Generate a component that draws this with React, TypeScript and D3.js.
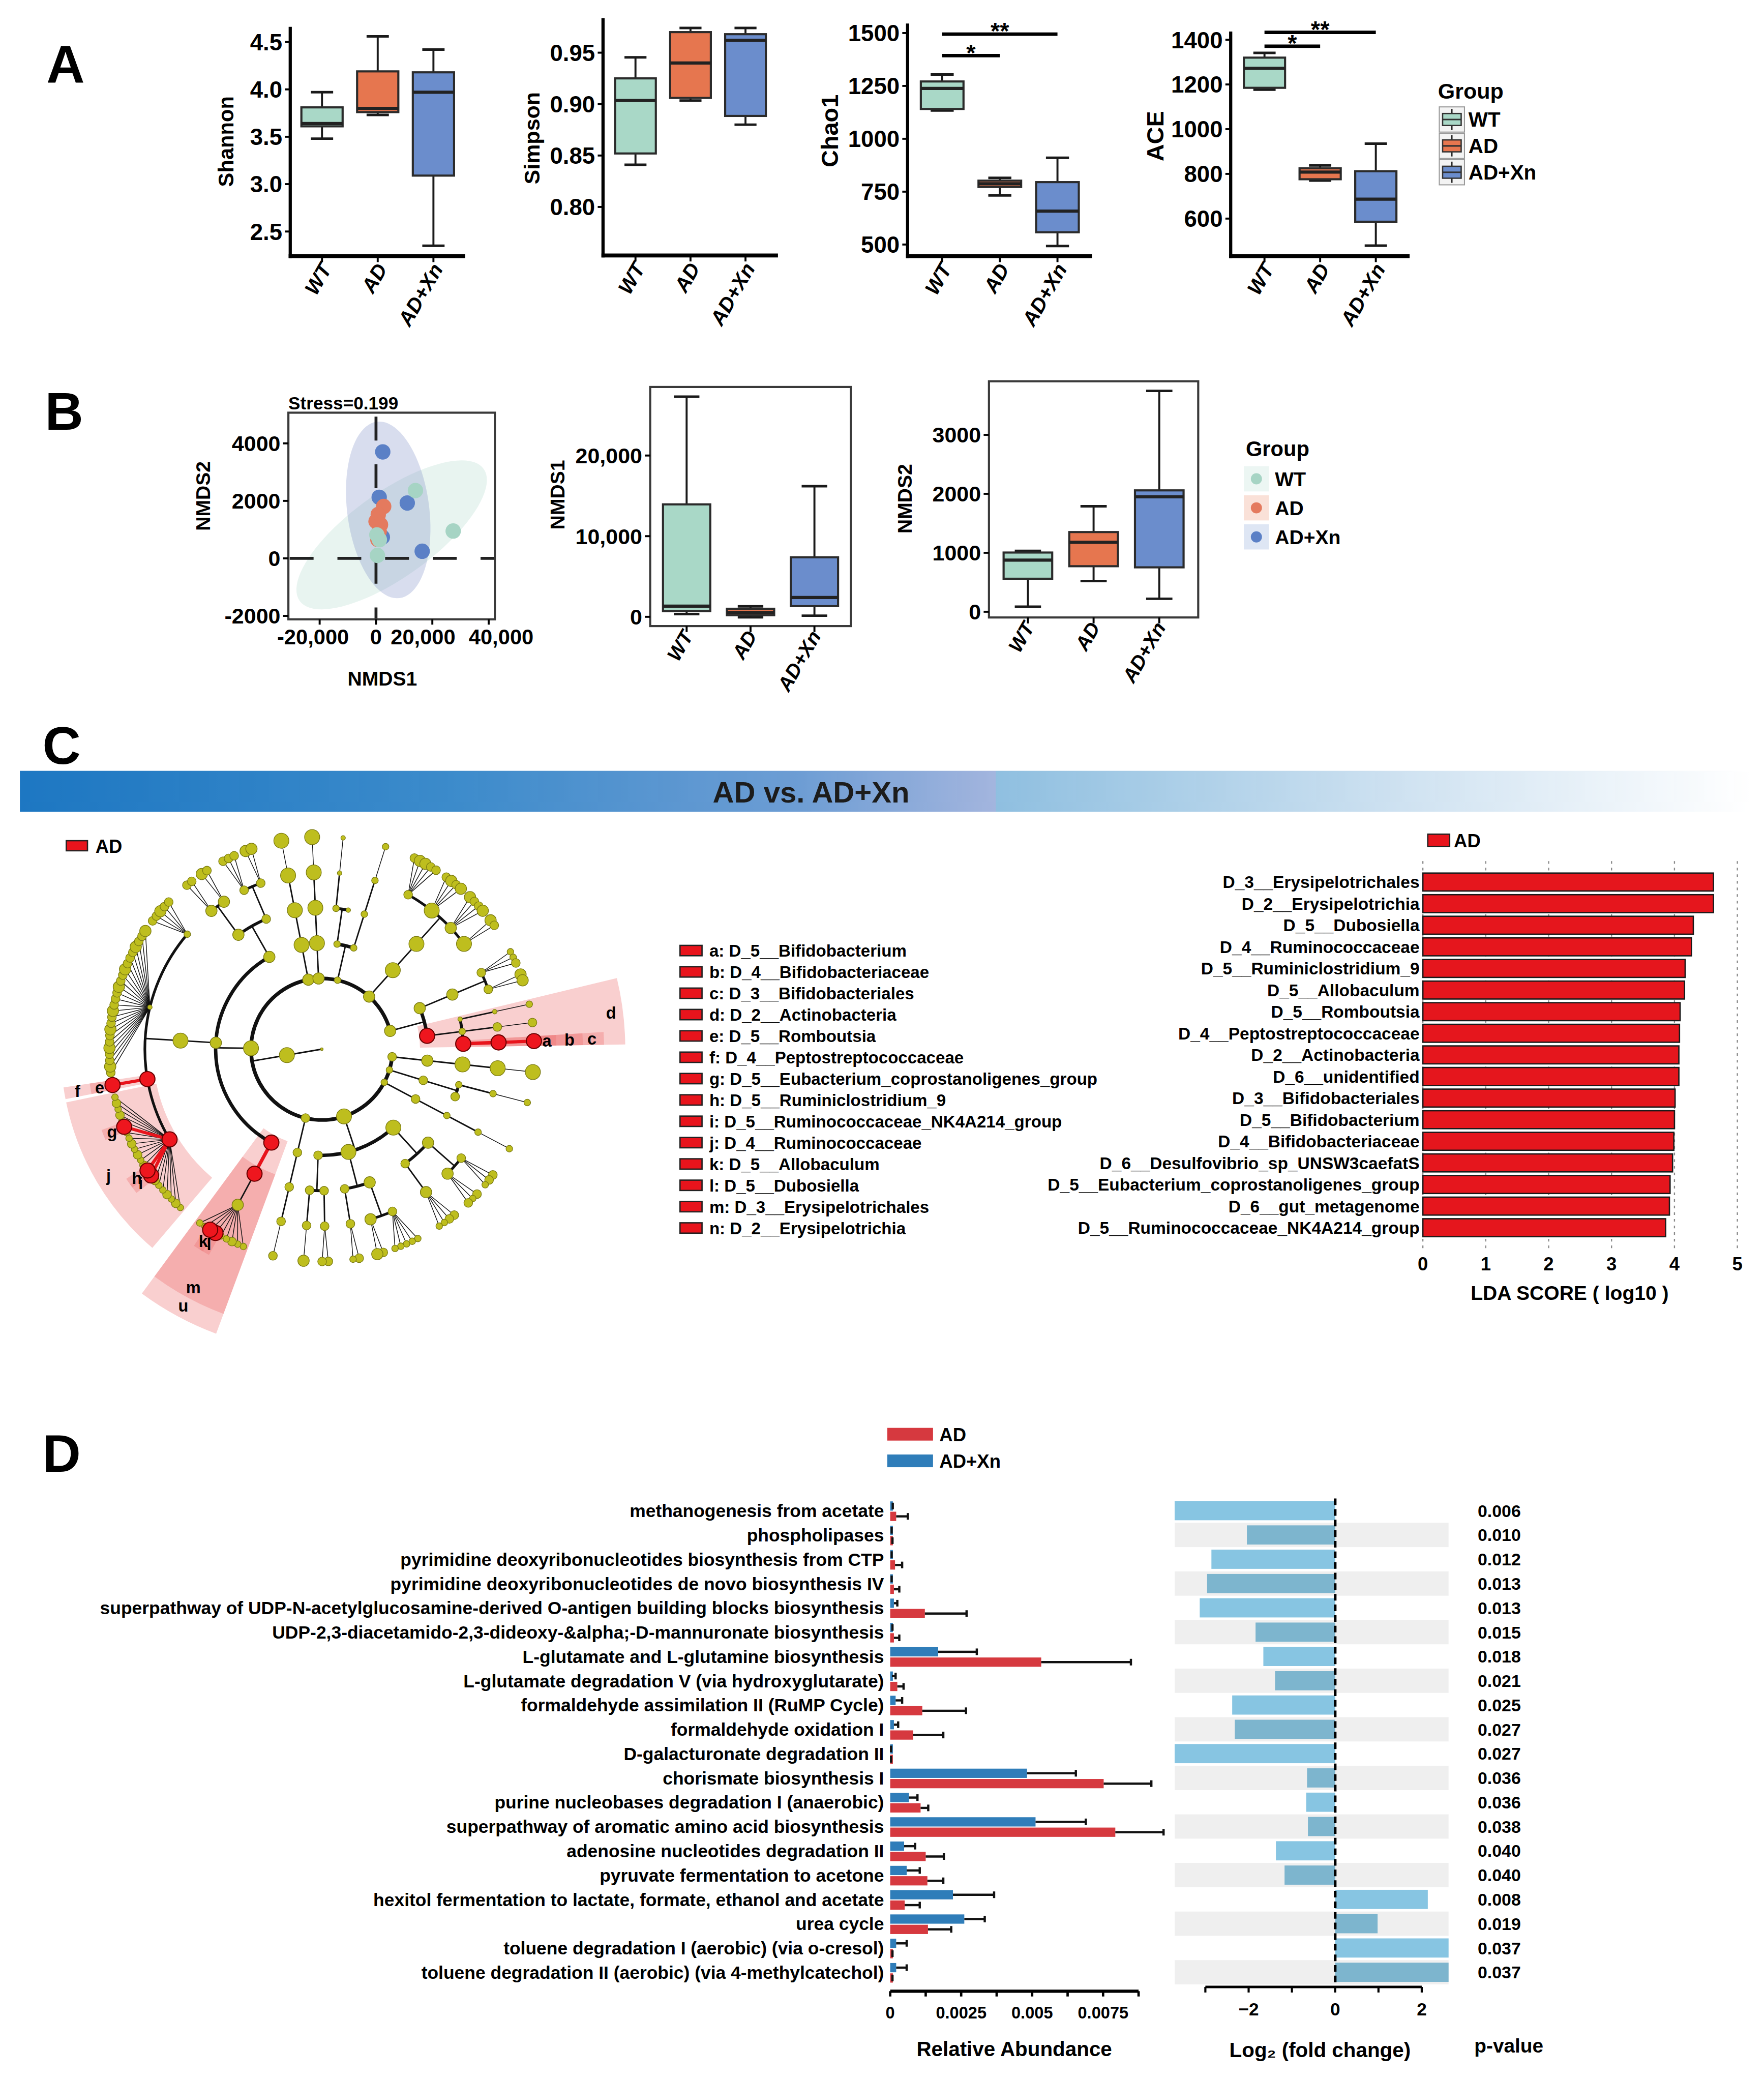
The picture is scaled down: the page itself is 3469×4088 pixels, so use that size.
import React from 'react';
import * as d3 from 'd3';

const FONT = '"Liberation Sans", Arial, Helvetica, sans-serif';
const VW = 1331;
const VH = 1568;

// ---------------- Panel A data ----------------
const groups = ['WT', 'AD', 'AD+Xn'];
const groupFill = ['#a9d8c7', '#e6764f', '#6b8dcc'];
// [min, q1, median, q3, max]
const shannonStats = [[3.48, 3.61, 3.64, 3.81, 3.97], [3.73, 3.76, 3.80, 4.19, 4.56], [2.35, 3.09, 3.97, 4.18, 4.42]];
const simpsonStats = [[0.841, 0.852, 0.9035, 0.925, 0.9455], [0.9035, 0.906, 0.940, 0.970, 0.974], [0.880, 0.8885, 0.962, 0.968, 0.974]];
const chao1Stats = [[1134, 1141, 1238, 1271, 1304], [732, 772, 787, 802, 815], [493, 558, 658, 795, 910]];
const aceStats = [[1177, 1185, 1272, 1320, 1341], [770, 776, 808, 825, 838], [479, 586, 687, 812, 935]];
const shannonTicks = [2.5, 3.0, 3.5, 4.0, 4.5];
const simpsonTicks = [0.80, 0.85, 0.90, 0.95];
const chao1Ticks = [500, 750, 1000, 1250, 1500];
const aceTicks = [600, 800, 1000, 1200, 1400];
const chao1Sig = [{ from: 'WT', to: 'AD', y: 1393, label: '*' }, { from: 'WT', to: 'AD+Xn', y: 1495, label: '**' }];
const aceSig = [{ from: 'WT', to: 'AD', y: 1371, label: '*' }, { from: 'WT', to: 'AD+Xn', y: 1433, label: '**' }];

// ---------------- Panel B data ----------------
const nmdsWT = [[14000, 2360], [27400, 950], [300, 817], [500, 102], [1200, 650]];
const nmdsAD = [[2730, 1806], [800, 1529], [0, 1289], [1600, 1173], [1130, 933], [660, 656]];
const nmdsXn = [[2400, 3704], [1130, 2125], [11100, 1926], [16400, 247], [2260, 739]];
// ellipse: center, half-axis u, half-axis v (data units)
const ellipseWT = { c: [5553, 818], u: [32659, 2296], v: [8753, -1201] };
const ellipseAD = { c: [1300, 1250], u: [600, 750], v: [2200, -50] };
const ellipseXn = { c: [4330, 1686], u: [4024, -3067], v: [14447, 183] };
const nmdsXTicks = [-20000, 0, 20000, 40000];
const nmdsXLabelNudge = [-5, 0, -7, 9.4];
const nmdsYTicks = [-2000, 0, 2000, 4000];
const nmds1Stats = [[338, 704, 1324, 13944, 27296], [-60, 200, 540, 1000, 1300], [141, 1324, 2394, 7380, 16197]];
const nmds2Stats = [[85, 560, 876, 1004, 1031], [521, 772, 1178, 1351, 1788], [220, 753, 1950, 2058, 3745]];
const nmds1Ticks = [0, 10000, 20000];
const nmds2Ticks = [0, 1000, 2000, 3000];

// ---------------- Panel C data ----------------
const cladeLetters = ['a', 'b', 'c', 'd', 'e', 'f', 'g', 'h', 'i', 'j', 'k', 'l', 'm', 'n'];
const cladeNames = ['D_5__Bifidobacterium', 'D_4__Bifidobacteriaceae', 'D_3__Bifidobacteriales', 'D_2__Actinobacteria', 'D_5__Romboutsia', 'D_4__Peptostreptococcaceae', 'D_5__Eubacterium_coprostanoligenes_group', 'D_5__Ruminiclostridium_9', 'D_5__Ruminococcaceae_NK4A214_group', 'D_4__Ruminococcaceae', 'D_5__Allobaculum', 'D_5__Dubosiella', 'D_3__Erysipelotrichales', 'D_2__Erysipelotrichia'];
const cladogramTags = ['a', 'b', 'c', 'd', 'e', 'f', 'g', 'h', 'i', 'j', 'k', 'l', 'm', 'u'];

// taxonomy tree (newick-like, label:sizeClass), clockwise order
const PA = '((((:5):5):5):4):3';
const PB = '((((:2):2):2,:3):3):2';
const PC = '((((:2):2):2):3):2';
const PD_C1 = '(((:3,:3,:2):3,(:3,:2,:3):4):4,((:3,:3,:2,:2):4):3):5';
const PD_C2 = '(((:2,:2,:2,:2,:2):3,(:3,:4):4):4,((:3,:2):3):3):5';
const PD_C3 = '(((:3,:3):3):3,((:4):3):3):3';
const PD = `(${PD_C1},${PD_C2},${PD_C3}):5`;
const PE = '((((:3):3):3):3):3';
const PF_N = '(((:2,:2,:3,:2,:2,l:5,k:5,:2,:2):4)m:5)n:5';
const PF_J = '(:2,:3,:2,:3,:2,:2,:3,i:5,h:5,:3,:2,:3,:2,:3,:2,:2,g:5,:2,:3,:2,:3,:2)j:5';
const PF_F = '(e:5)f:5';
const PF_LACH = '(:3,:4,:3,:3,:4,:3,:3,:4,:3,:3,:4,:3,:3,:3,:4,:3,:3,:4,:3,:3,:3,:4,:3,:3,:4):1';
const PF_F217 = '(:3,:3,:4,:3,:3):2';
const PF_CLOS = `((${PF_J},${PF_F},${PF_LACH},${PF_F217}):5):4`;
const PF_BAC = '(((:3,:3):4,(:4,:3):4):4,((:3,:3,:3):3,(:4,:4):3):3):4';
const PF = `(${PF_N},${PF_CLOS},${PF_BAC}):5`;
const PG = '((((:5):5):5):5):4';
const PH = '((((:5):5):5):5):4';
const PI = '((((:1):1):2,:1):2,(((:2):2):2):2):2';
const PJ = '(((' + ['(:3,:4,:4,:3,:3):3', '(:3,:4,:3,:4):5', '(:4,:3,:3,:4):4', '(:4,:3):5'].join(',') + '):5):5):4';
const PK_C1 = '(((:2,:2,:3):3,(:4,:4):3):4):4';
const PK_D = '(((:2):1):1,((:3):3):2,((a:5)b:5)c:5)d:5';
const PK = `(${PK_C1},${PK_D}):4`;
const TREE = `((${[PA, PB, PC, PD, PE, PF, PG, PH, PI, PJ, PK].join(',')}):5):0`;

const ldaTaxa = ['D_3__Erysipelotrichales', 'D_2__Erysipelotrichia', 'D_5__Dubosiella', 'D_4__Ruminococcaceae', 'D_5__Ruminiclostridium_9', 'D_5__Allobaculum', 'D_5__Romboutsia', 'D_4__Peptostreptococcaceae', 'D_2__Actinobacteria', 'D_6__unidentified', 'D_3__Bifidobacteriales', 'D_5__Bifidobacterium', 'D_4__Bifidobacteriaceae', 'D_6__Desulfovibrio_sp_UNSW3caefatS', 'D_5__Eubacterium_coprostanoligenes_group', 'D_6__gut_metagenome', 'D_5__Ruminococcaceae_NK4A214_group'];
const ldaScores = [4.62, 4.62, 4.30, 4.27, 4.17, 4.16, 4.09, 4.08, 4.07, 4.07, 4.01, 4.00, 3.99, 3.97, 3.93, 3.92, 3.86];
const ldaTicks = [0, 1, 2, 3, 4, 5];

// ---------------- Panel D data ----------------
const pathways = ['methanogenesis from acetate', 'phospholipases', 'pyrimidine deoxyribonucleotides biosynthesis from CTP', 'pyrimidine deoxyribonucleotides de novo biosynthesis IV', 'superpathway of UDP-N-acetylglucosamine-derived O-antigen building blocks biosynthesis', 'UDP-2,3-diacetamido-2,3-dideoxy-&alpha;-D-mannuronate biosynthesis', 'L-glutamate and L-glutamine biosynthesis', 'L-glutamate degradation V (via hydroxyglutarate)', 'formaldehyde assimilation II (RuMP Cycle)', 'formaldehyde oxidation I', 'D-galacturonate degradation II', 'chorismate biosynthesis I', 'purine nucleobases degradation I (anaerobic)', 'superpathway of aromatic amino acid biosynthesis', 'adenosine nucleotides degradation II', 'pyruvate fermentation to acetone', 'hexitol fermentation to lactate, formate, ethanol and acetate', 'urea cycle', 'toluene degradation I (aerobic) (via o-cresol)', 'toluene degradation II (aerobic) (via 4-methylcatechol)'];
const abundAD = [0.00021, 0.00006, 0.00017, 0.00013, 0.00122, 0.00013, 0.00532, 0.00025, 0.00113, 0.00081, 0.00002, 0.00752, 0.00107, 0.00793, 0.00125, 0.00131, 0.00051, 0.00133, 0.00006, 0.00006];
const sdAD = [0.00041, 0.00002, 0.00025, 0.00019, 0.00147, 0.00019, 0.00316, 0.00022, 0.00154, 0.00106, 0.00001, 0.00168, 0.00027, 0.0017, 0.00064, 0.00056, 0.00053, 0.00082, 0.00002, 0.00002];
const abundXn = [0.00007, 0.00004, 0.00004, 0.00004, 0.00013, 0.00006, 0.00169, 0.00006, 0.00019, 0.00013, 0.00002, 0.00482, 0.00066, 0.00512, 0.00049, 0.00058, 0.00221, 0.00261, 0.00021, 0.00021];
const sdXn = [0.00002, 0.00001, 0.00001, 0.00001, 0.00012, 0.00002, 0.00136, 0.00013, 0.00023, 0.00015, 0.00001, 0.00172, 0.0003, 0.00177, 0.00039, 0.00046, 0.00145, 0.00072, 0.00037, 0.00037];
const abundTicks = [0, 0.00125, 0.0025, 0.00375, 0.005, 0.00625, 0.0075, 0.00875];
const abundLabels = ['0', '', '0.0025', '', '0.005', '', '0.0075', ''];
const log2fc = [-4.5, -2.04, -2.86, -2.96, -3.13, -1.84, -1.66, -1.39, -2.38, -2.32, -4.2, -0.65, -0.67, -0.63, -1.37, -1.17, 2.14, 0.98, 2.9, 3.1];
const pValues = ['0.006', '0.010', '0.012', '0.013', '0.013', '0.015', '0.018', '0.021', '0.025', '0.027', '0.027', '0.036', '0.036', '0.038', '0.040', '0.040', '0.008', '0.019', '0.037', '0.037'];
const fcTicks = [-3, -2, -1, 0, 1, 2];
const fcLabels = ['', '\u22122', '', '0', '', '2'];

const ADRED = '#d6393f';
const XNBLUE = '#2f7db9';

// ---------------- helpers ----------------
function XLabels({ xs, y, fs, dx }) {
  return (
    <g>
      {groups.map((g) => (
        <text key={g} transform={`translate(${xs(g) + dx},${y}) rotate(-60)`} textAnchor="end" dy="0.72em"
          fontSize={fs} fontWeight="bold" fontStyle="italic">{g}</text>
      ))}
    </g>
  );
}

function BoxPanel(p) {
  const { x0, x1, yTop, yBot, domain, stats, ticks, fmt, title, titleX, titleY, pad, framed, sig, tickFs, titleFs, labFs, labDx, labDy } = p;
  const xs = d3.scalePoint().domain(groups).range([x0, x1]).padding(pad);
  const ys = d3.scaleLinear().domain(domain).range([yBot, yTop]);
  const step = xs.step();
  const bw = step * 0.74;
  const cw = step * 0.4;
  const ty = titleY != null ? titleY : (yTop + yBot) / 2;
  return (
    <g>
      {framed ? (
        <rect x={x0} y={yTop} width={x1 - x0} height={yBot - yTop} fill="none" stroke="#3a3a3a" strokeWidth={1.6} />
      ) : (
        <g>
          <line x1={x0} x2={x0} y1={yTop} y2={yBot + 1.5} stroke="#000" strokeWidth={2.4} />
          <line x1={x0 - 1.2} x2={x1} y1={yBot} y2={yBot} stroke="#000" strokeWidth={3} />
        </g>
      )}
      {ticks.map((t) => (
        <g key={t}>
          <line x1={x0 - 4} x2={x0} y1={ys(t)} y2={ys(t)} stroke="#000" strokeWidth={1.5} />
          <text x={x0 - 6} y={ys(t)} dy="0.36em" textAnchor="end" fontSize={tickFs} fontWeight="bold">{fmt(t)}</text>
        </g>
      ))}
      {groups.map((g) => (
        <line key={g} x1={xs(g)} x2={xs(g)} y1={yBot} y2={yBot + 4.5} stroke="#000" strokeWidth={1.5} />
      ))}
      {stats.map((s, i) => {
        const cx = xs(groups[i]);
        const [mn, q1, md, q3, mx] = s;
        return (
          <g key={i}>
            <line x1={cx} x2={cx} y1={ys(mx)} y2={ys(q3)} stroke="#1a1a1a" strokeWidth={1.5} />
            <line x1={cx} x2={cx} y1={ys(q1)} y2={ys(mn)} stroke="#1a1a1a" strokeWidth={1.5} />
            <line x1={cx - cw / 2} x2={cx + cw / 2} y1={ys(mx)} y2={ys(mx)} stroke="#1a1a1a" strokeWidth={1.9} />
            <line x1={cx - cw / 2} x2={cx + cw / 2} y1={ys(mn)} y2={ys(mn)} stroke="#1a1a1a" strokeWidth={1.9} />
            <rect x={cx - bw / 2} y={ys(q3)} width={bw} height={Math.max(1, ys(q1) - ys(q3))} fill={groupFill[i]} stroke="#2b2b2b" strokeWidth={1.6} />
            <line x1={cx - bw / 2} x2={cx + bw / 2} y1={ys(md)} y2={ys(md)} stroke="#222" strokeWidth={2.4} />
          </g>
        );
      })}
      {(sig || []).map((s, i) => {
        const xa = xs(s.from);
        const xb = xs(s.to);
        return (
          <g key={i}>
            <line x1={xa} x2={xb} y1={ys(s.y)} y2={ys(s.y)} stroke="#000" strokeWidth={2.6} />
            <text x={(xa + xb) / 2} y={ys(s.y) + 4} textAnchor="middle" fontSize={18} fontWeight="bold">{s.label}</text>
          </g>
        );
      })}
      <text transform={`translate(${titleX},${ty}) rotate(-90)`} textAnchor="middle" fontSize={titleFs} fontWeight="bold">{title}</text>
      <XLabels xs={xs} y={yBot + labDy} fs={labFs} dx={labDx} />
    </g>
  );
}

function PanelA() {
  const f1 = d3.format('.1f');
  const f2 = d3.format('.2f');
  const fd = d3.format('d');
  const common = { tickFs: 17.5, labFs: 15.5, labDx: -2, labDy: 4 };
  return (
    <g>
      <text x={35} y={62} fontSize={40} fontWeight="bold">A</text>
      <BoxPanel {...common} titleFs={16} x0={219} x1={351} yTop={20} yBot={193} domain={[2.24, 4.66]} stats={shannonStats} ticks={shannonTicks} fmt={f1} title="Shannon" titleX={176} pad={0.57} />
      <BoxPanel {...common} titleFs={16.5} x0={455} x1={587} yTop={13.5} yBot={192.5} domain={[0.7528, 0.9835]} stats={simpsonStats} ticks={simpsonTicks} fmt={f2} title="Simpson" titleX={407} titleY={104} pad={0.59} />
      <BoxPanel {...common} titleFs={18} x0={684.8} x1={824} yTop={17.5} yBot={193} domain={[445, 1545]} stats={chao1Stats} ticks={chao1Ticks} fmt={fd} title="Chao1" titleX={632.5} titleY={98.5} pad={0.6} sig={chao1Sig} />
      <BoxPanel {...common} titleFs={18} x0={928.6} x1={1063.6} yTop={23.5} yBot={193} domain={[432, 1437]} stats={aceStats} ticks={aceTicks} fmt={fd} title="ACE" titleX={878} titleY={102.5} pad={0.607} sig={aceSig} />
      <text x={1085} y={74} fontSize={16.5} fontWeight="bold">Group</text>
      {groups.map((g, i) => {
        const cy = 89.9 + i * 19.9;
        const kx = 1086;
        const kw = 19;
        return (
          <g key={g}>
            <rect x={kx} y={cy - kw / 2} width={kw} height={kw} fill="#f3f3f3" stroke="#9a9a9a" strokeWidth={0.8} />
            <line x1={kx + kw / 2} x2={kx + kw / 2} y1={cy - 8} y2={cy + 8} stroke="#222" strokeWidth={1} />
            <rect x={kx + 2.5} y={cy - 4.5} width={kw - 5} height={9} fill={groupFill[i]} stroke="#333" strokeWidth={1} />
            <line x1={kx + 2.5} x2={kx + kw - 2.5} y1={cy} y2={cy} stroke="#333" strokeWidth={1.2} />
            <text x={1108} y={cy} dy="0.36em" fontSize={15.5} fontWeight="bold">{g}</text>
          </g>
        );
      })}
    </g>
  );
}

function ellipsePts(e) {
  const n = 90;
  return d3.range(n + 1).map((k) => {
    const t = (k / n) * Math.PI * 2;
    return [e.c[0] + e.u[0] * Math.cos(t) + e.v[0] * Math.sin(t), e.c[1] + e.u[1] * Math.cos(t) + e.v[1] * Math.sin(t)];
  });
}

function Scatter() {
  const x0 = 217.6, x1 = 373.4, yT = 311.1, yB = 467;
  const xs = d3.scaleLinear().domain([-31100, 42200]).range([x0, x1]);
  const ys = d3.scaleLinear().domain([-2120, 5067]).range([yB, yT]);
  const line = d3.line().x((d) => xs(d[0])).y((d) => ys(d[1])).curve(d3.curveLinearClosed);
  const fmtX = (v) => d3.format(',')(v).replace('\u2212', '-');
  const fmtY = (v) => d3.format('d')(v).replace('\u2212', '-');
  return (
    <g>
      <defs>
        <clipPath id="scClip"><rect x={x0} y={yT} width={x1 - x0} height={yB - yT} /></clipPath>
      </defs>
      <g clipPath="url(#scClip)">
        <path d={line(ellipsePts(ellipseWT))} fill={groupFill[0]} fillOpacity={0.27} />
        <path d={line(ellipsePts(ellipseAD))} fill="#f0a08a" fillOpacity={0.3} />
        <path d={line(ellipsePts(ellipseXn))} fill="#7f8fc8" fillOpacity={0.3} />
        <line x1={xs(0)} x2={xs(0)} y1={yT} y2={yB} stroke="#222" strokeWidth={2.2} strokeDasharray="18,18" strokeDashoffset={-3} />
        <line x1={x0} x2={x1} y1={ys(0)} y2={ys(0)} stroke="#222" strokeWidth={2.2} strokeDasharray="18,18" strokeDashoffset={-1} />
        {nmdsXn.map((d, i) => <circle key={'x' + i} cx={xs(d[0])} cy={ys(d[1])} r={5.8} fill="#5b80c6" />)}
        {nmdsAD.map((d, i) => <circle key={'a' + i} cx={xs(d[0])} cy={ys(d[1])} r={5.8} fill="#e47a5e" />)}
        {nmdsWT.map((d, i) => <circle key={'w' + i} cx={xs(d[0])} cy={ys(d[1])} r={5.8} fill="#a6d4c4" />)}
      </g>
      <rect x={x0} y={yT} width={x1 - x0} height={yB - yT} fill="none" stroke="#3a3a3a" strokeWidth={1.6} />
      {nmdsYTicks.map((t) => (
        <g key={t}>
          <line x1={x0 - 4} x2={x0} y1={ys(t)} y2={ys(t)} stroke="#000" strokeWidth={1.5} />
          <text x={x0 - 6} y={ys(t)} dy="0.36em" textAnchor="end" fontSize={16.5} fontWeight="bold">{fmtY(t)}</text>
        </g>
      ))}
      {nmdsXTicks.map((t, i) => (
        <g key={t}>
          <line x1={xs(t)} x2={xs(t)} y1={yB} y2={yB + 4} stroke="#000" strokeWidth={1.5} />
          <text x={xs(t) + nmdsXLabelNudge[i]} y={yB + 13} dy="0.36em" textAnchor="middle" fontSize={16} fontWeight="bold">{fmtX(t)}</text>
        </g>
      ))}
      <text x={x0} y={308.5} fontSize={13.5} fontWeight="bold">Stress=0.199</text>
      <text x={(x0 + x1) / 2 - 7} y={517} textAnchor="middle" fontSize={15} fontWeight="bold">NMDS1</text>
      <text transform={`translate(158.5,374) rotate(-90)`} textAnchor="middle" fontSize={15} fontWeight="bold">NMDS2</text>
    </g>
  );
}

function PanelB() {
  const common = { tickFs: 16.5, titleFs: 15, labFs: 15, framed: true, labDx: -4, labDy: 2 };
  const fc = (v) => d3.format(',')(v);
  const fd = d3.format('d');
  return (
    <g>
      <text x={34} y={324} fontSize={40} fontWeight="bold">B</text>
      <Scatter />
      <BoxPanel {...common} x0={490.6} x1={642} yTop={291.7} yBot={472.1} domain={[-1150, 28500]} stats={nmds1Stats} ticks={nmds1Ticks} fmt={fc} title="NMDS1" titleX={425.7} titleY={373} pad={0.57} />
      <BoxPanel {...common} x0={746.2} x1={904.1} yTop={287.4} yBot={465.6} domain={[-97, 3908]} stats={nmds2Stats} ticks={nmds2Ticks} fmt={fd} title="NMDS2" titleX={688} titleY={376} pad={0.593} />
      <text x={940} y={344} fontSize={16} fontWeight="bold">Group</text>
      {groups.map((g, i) => {
        const cy = 361 + i * 21.9;
        return (
          <g key={g}>
            <rect x={938.5} y={cy - 9.5} width={19} height={19} fill={groupFill[i]} fillOpacity={0.22} />
            <circle cx={948} cy={cy} r={4.2} fill={['#a6d4c4', '#e47a5e', '#5b80c6'][i]} />
            <text x={962} y={cy} dy="0.36em" fontSize={15} fontWeight="bold">{g}</text>
          </g>
        );
      })}
    </g>
  );
}

// ---------------- Cladogram ----------------
function parseTree(s) {
  let i = 0;
  function node() {
    let children;
    if (s[i] === '(') {
      children = [];
      i++;
      children.push(node());
      while (s[i] === ',') {
        i++;
        children.push(node());
      }
      i++;
    }
    let name = '';
    while (i < s.length && s[i] !== ':' && s[i] !== ',' && s[i] !== ')') name += s[i++];
    let size = 0;
    if (s[i] === ':') {
      i++;
      let num = '';
      while (i < s.length && /[0-9.]/.test(s[i])) num += s[i++];
      size = +num;
    }
    return children ? { name, size, children } : { name, size };
  }
  return node();
}

function Cladogram() {
  const cx = 242.8, cy = 791.3, STEP = 26.7;
  const root = d3.hierarchy(parseTree(TREE));
  d3.cluster().size([1, 1]).separation((a, b) => {
    const path = a.path(b);
    let md = 99;
    for (const n of path) md = Math.min(md, n.depth);
    return Math.max(1, 6 - md);
  })(root);
  const hi = new Set(cladeLetters);
  const isHi = (n) => hi.has(n.data.name);
  const th = (n) => (2 + n.x * 360) * Math.PI / 180;
  const pt = (r, t) => `${(cx + r * Math.cos(t)).toFixed(2)},${(cy + r * Math.sin(t)).toFixed(2)}`;
  const arcW = { 1: 1, 2: 2.8, 3: 2.6, 4: 2.2, 5: 2.0 };
  const edges = [];
  root.each((p) => {
    if (!p.children) return;
    const cd = p.depth + 1;
    const rp = p.depth * STEP;
    const rc = cd * STEP;
    if (cd <= 5) {
      const red = p.children.length === 1 && isHi(p) && isHi(p.children[0]);
      edges.push({ d: `M${pt(rp, th(p))}L${pt(rc, th(p))}`, w: red ? 2.6 : 1.1, red });
      if (p.children.length > 1) {
        const ts = p.children.map(th);
        const t0 = Math.min(...ts), t1 = Math.max(...ts);
        const large = t1 - t0 > Math.PI ? 1 : 0;
        edges.push({ d: `M${pt(rc, t0)}A${rc},${rc} 0 ${large} 1 ${pt(rc, t1)}`, w: arcW[cd], red: false });
      }
    } else {
      p.children.forEach((c) => {
        const red = isHi(p) && isHi(c);
        edges.push({ d: `M${pt(rp, th(p))}L${pt(rc, th(c))}`, w: red ? 2.4 : 0.55, red });
      });
    }
  });
  const outerR = { 3: 229, 4: 213, 5: 197, 6: 177 };
  const labelR = { 3: 220, 4: 204, 5: 187, 6: 170 };
  const pad = 1.3 * Math.PI / 180;
  const arcGen = d3.arc();
  const hiNodes = root.descendants().filter(isHi).sort((a, b) => a.depth - b.depth);
  const wedges = hiNodes.map((n) => {
    const ts = n.leaves().map(th);
    const t0 = Math.min(...ts) - pad, t1 = Math.max(...ts) + pad;
    const inner = n.depth * STEP - 6;
    const outer = outerR[n.depth];
    const d = arcGen({ innerRadius: inner, outerRadius: outer, startAngle: t0 + Math.PI / 2, endAngle: t1 + Math.PI / 2 });
    const tm = (t0 + t1) / 2;
    const lr = labelR[n.depth];
    const tag = cladogramTags[cladeLetters.indexOf(n.data.name)];
    return { d, lx: cx + lr * Math.cos(tm), ly: cy + lr * Math.sin(tm), tag };
  });
  const sizeR = [1, 1.7, 2.5, 3.3, 4.3, 5.7];
  const nodes = root.descendants();
  return (
    <g>
      <g transform={`translate(${cx},${cy})`}>
        {wedges.map((w, i) => <path key={i} d={w.d} fill="#ec6a6a" fillOpacity={0.32} />)}
      </g>
      {edges.filter((e) => !e.red).map((e, i) => <path key={'e' + i} d={e.d} fill="none" stroke="#111" strokeWidth={e.w} />)}
      {edges.filter((e) => e.red).map((e, i) => <path key={'r' + i} d={e.d} fill="none" stroke="#e8141c" strokeWidth={e.w} />)}
      {nodes.filter((n) => !isHi(n)).map((n, i) => {
        const r = n.depth * STEP;
        const t = th(n);
        return <circle key={'n' + i} cx={cx + r * Math.cos(t)} cy={cy + r * Math.sin(t)} r={sizeR[n.data.size] || 1} fill="#bebe1e" stroke="#7c7c12" strokeWidth={0.5} />;
      })}
      {nodes.filter(isHi).map((n, i) => {
        const r = n.depth * STEP;
        const t = th(n);
        return <circle key={'h' + i} cx={cx + r * Math.cos(t)} cy={cy + r * Math.sin(t)} r={sizeR[n.data.size]} fill="#ee161e" stroke="#6a0000" strokeWidth={0.8} />;
      })}
      {wedges.map((w, i) => (
        <text key={'t' + i} x={w.lx} y={w.ly} dy="0.36em" textAnchor="middle" fontSize={12.5} fontWeight="bold">{w.tag}</text>
      ))}
    </g>
  );
}

function PanelC() {
  const xl = d3.scaleLinear().domain([0, 5]).range([1073.6, 1310.9]);
  const yl = d3.scaleBand().domain(ldaTaxa).range([657.05, 934.15]).paddingInner(0.17).paddingOuter(0.085);
  const listY = d3.scaleBand().domain(cladeLetters).range([708.85, 934.25]);
  return (
    <g>
      <text x={32} y={576} fontSize={40} fontWeight="bold">C</text>
      <defs>
        <linearGradient id="banner" x1="0" x2="1" y1="0" y2="0">
          <stop offset="0" stopColor="#1d77c2" />
          <stop offset="0.25" stopColor="#3c8bcb" />
          <stop offset="0.45" stopColor="#6d9dd4" />
          <stop offset="0.564" stopColor="#a3b5de" />
          <stop offset="0.5645" stopColor="#8fbfe0" />
          <stop offset="0.8" stopColor="#cfe2f1" />
          <stop offset="1" stopColor="#ffffff" />
        </linearGradient>
      </defs>
      <rect x={15} y={581.3} width={1305} height={30.9} fill="url(#banner)" />
      <text x={612} y={597} dy="0.36em" textAnchor="middle" fontSize={22.3} fontWeight="bold" fill="#1c1c1c">AD vs. AD+Xn</text>
      <rect x={50} y={634} width={16} height={7.6} fill="#e8141c" stroke="#222" strokeWidth={1} />
      <text x={72} y={638} dy="0.36em" fontSize={14} fontWeight="bold">AD</text>
      <Cladogram />
      {cladeLetters.map((l, i) => {
        const y = listY(l) + listY.bandwidth() / 2;
        return (
          <g key={l}>
            <rect x={513.1} y={y - 3.9} width={16.6} height={7.8} fill="#e8141c" stroke="#222" strokeWidth={1} />
            <text x={535.2} y={y} dy="0.36em" fontSize={12.7} fontWeight="bold">{`${l}: ${cladeNames[i]}`}</text>
          </g>
        );
      })}
      <rect x={1077.3} y={629.1} width={16.5} height={9.3} fill="#e8141c" stroke="#222" strokeWidth={1} />
      <text x={1097} y={634} dy="0.36em" fontSize={14} fontWeight="bold">AD</text>
      {ldaTicks.map((t) => (
        <g key={t}>
          <line x1={xl(t)} x2={xl(t)} y1={649.4} y2={941.8} stroke="#8a8a8a" strokeWidth={0.9} strokeDasharray="2,3" />
          <text x={xl(t)} y={953} dy="0.36em" textAnchor="middle" fontSize={14} fontWeight="bold">{t}</text>
        </g>
      ))}
      {ldaTaxa.map((t, i) => (
        <g key={t}>
          <rect x={xl(0)} y={yl(t)} width={xl(ldaScores[i]) - xl(0)} height={yl.bandwidth()} fill="#e5161d" stroke="#1a1a1a" strokeWidth={1} />
          <text x={xl(0) - 2.5} y={yl(t) + yl.bandwidth() / 2} dy="0.36em" textAnchor="end" fontSize={12.85} fontWeight="bold">{t}</text>
        </g>
      ))}
      <text x={1184.4} y={975} dy="0.36em" textAnchor="middle" fontSize={15} fontWeight="bold">LDA SCORE ( log10 )</text>
    </g>
  );
}

function PanelD() {
  const rowY = d3.scaleBand().domain(pathways).range([1130.3, 1496.9]);
  const st = rowY.step();
  const xa = d3.scaleLinear().domain([0, 0.00875]).range([671.7, 859.1]);
  const xf = d3.scaleLinear().domain([-3.71, 2.62]).range([886.3, 1093]).clamp(true);
  const bh = st * 0.79;
  return (
    <g>
      <text x={32} y={1110} fontSize={40} fontWeight="bold">D</text>
      <rect x={669.5} y={1077} width={34.5} height={9.6} fill={ADRED} />
      <rect x={669.5} y={1097.1} width={34.5} height={9.6} fill={XNBLUE} />
      <text x={708.8} y={1082} dy="0.36em" fontSize={14} fontWeight="bold">AD</text>
      <text x={708.8} y={1102} dy="0.36em" fontSize={14} fontWeight="bold">AD+Xn</text>
      {pathways.map((p, i) => {
        const c = rowY(p) + st / 2;
        return (
          <g key={p}>
            <text x={667} y={c} dy="0.36em" textAnchor="end" fontSize={13.6} fontWeight="bold">{p}</text>
            <rect x={xa(0)} y={c - 7} width={Math.max(2, xa(abundXn[i]) - xa(0))} height={7} fill={XNBLUE} />
            <rect x={xa(0)} y={c + 0.8} width={Math.max(2, xa(abundAD[i]) - xa(0))} height={7} fill={ADRED} />
            <line x1={xa(abundXn[i])} x2={xa(abundXn[i] + sdXn[i])} y1={c - 3.5} y2={c - 3.5} stroke="#111" strokeWidth={1.7} />
            <line x1={xa(abundXn[i] + sdXn[i])} x2={xa(abundXn[i] + sdXn[i])} y1={c - 6} y2={c - 1} stroke="#111" strokeWidth={1.7} />
            <line x1={xa(abundAD[i])} x2={xa(abundAD[i] + sdAD[i])} y1={c + 4.3} y2={c + 4.3} stroke="#111" strokeWidth={1.7} />
            <line x1={xa(abundAD[i] + sdAD[i])} x2={xa(abundAD[i] + sdAD[i])} y1={c + 1.8} y2={c + 6.8} stroke="#111" strokeWidth={1.7} />
            {i % 2 === 1 && <rect x={xf(-3.71)} y={rowY(p)} width={xf(2.62) - xf(-3.71)} height={st} fill="#efefef" />}
            <rect x={Math.min(xf(0), xf(log2fc[i]))} y={c - bh / 2} width={Math.abs(xf(log2fc[i]) - xf(0))} height={bh} fill={i % 2 === 1 ? '#7db5ce' : '#87c5e2'} />
            <text x={1115} y={c} dy="0.36em" fontSize={13} fontWeight="bold">{pValues[i]}</text>
          </g>
        );
      })}
      <line x1={xf(0)} x2={xf(0)} y1={1130.3} y2={1496.9} stroke="#000" strokeWidth={2} strokeDasharray="5,3" />
      <line x1={xa(0)} x2={xa(0.00875)} y1={1502} y2={1502} stroke="#000" strokeWidth={2.4} />
      {abundTicks.map((t, i) => (
        <g key={t}>
          <line x1={xa(t)} x2={xa(t)} y1={1502} y2={1506} stroke="#000" strokeWidth={1.8} />
          {abundLabels[i] && <text x={xa(t)} y={1518} dy="0.36em" textAnchor="middle" fontSize={12.5} fontWeight="bold">{abundLabels[i]}</text>}
        </g>
      ))}
      <text x={765.3} y={1545.5} dy="0.36em" textAnchor="middle" fontSize={15.5} fontWeight="bold">Relative Abundance</text>
      <line x1={xf(-3)} x2={xf(2)} y1={1498.8} y2={1498.8} stroke="#000" strokeWidth={2} />
      {fcTicks.map((t, i) => (
        <g key={t}>
          <line x1={xf(t)} x2={xf(t)} y1={1498.8} y2={1503} stroke="#000" strokeWidth={1.6} />
          {fcLabels[i] && <text x={xf(t)} y={1515.3} dy="0.36em" textAnchor="middle" fontSize={13.5} fontWeight="bold">{fcLabels[i]}</text>}
        </g>
      ))}
      <text x={996} y={1546} dy="0.36em" textAnchor="middle" fontSize={15.5} fontWeight="bold">Log₂ (fold change)</text>
      <text x={1112.4} y={1543} dy="0.36em" fontSize={14.9} fontWeight="bold">p-value</text>
    </g>
  );
}

export default function App() {
  return (
    <svg width={3469} height={4088} viewBox={`0 0 ${VW} ${VH}`} style={{ position: 'absolute', left: 0, top: 0, display: 'block' }} fontFamily={FONT}>
      <rect x={0} y={0} width={VW} height={VH} fill="#fff" />
      <PanelA />
      <PanelB />
      <PanelC />
      <PanelD />
    </svg>
  );
}
